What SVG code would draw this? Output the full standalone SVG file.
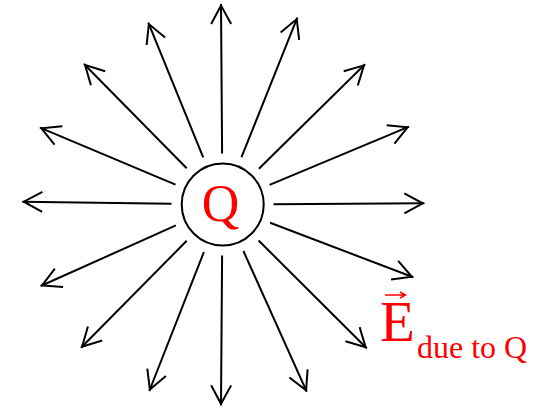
<svg xmlns="http://www.w3.org/2000/svg" width="539" height="409" viewBox="0 0 539 409">
  <style>
    .field { stroke: #000; stroke-width: 2; fill: none; marker-end: url(#head); }
    .red { fill: #ff0000; font-family: "Liberation Serif", "Times New Roman", serif; }
  </style>
  <defs>
    <marker id="head" markerUnits="userSpaceOnUse" viewBox="-24 -13 26 26" markerWidth="26" markerHeight="26" refX="0" refY="0" orient="auto" overflow="visible">
      <path d="M-20,-10 L-1.5,0 L-20,10" fill="none" stroke="#000" stroke-width="2" stroke-linejoin="miter"/>
    </marker>
  </defs>
  <rect width="539" height="409" fill="#fff"/>
  <g id="connectors">
    <line class="field" x1="222.1" y1="153.5" x2="221" y2="4"/>
    <line class="field" x1="241.5" y1="157.2" x2="297.3" y2="17.7"/>
    <line class="field" x1="258.9" y1="168.7" x2="365" y2="64.3"/>
    <line class="field" x1="269.6" y1="184.9" x2="409" y2="126.7"/>
    <line class="field" x1="273.5" y1="204.2" x2="424.3" y2="203.3"/>
    <line class="field" x1="270.1" y1="222.7" x2="413.3" y2="277.3"/>
    <line class="field" x1="258.6" y1="240.5" x2="366.7" y2="348.3"/>
    <line class="field" x1="243.4" y1="251.0" x2="306.7" y2="391.7"/>
    <line class="field" x1="222.1" y1="255.5" x2="221" y2="405.3"/>
    <line class="field" x1="203.9" y1="252.0" x2="149.3" y2="391"/>
    <line class="field" x1="186.7" y1="240.8" x2="81" y2="347.7"/>
    <line class="field" x1="175.9" y1="225.4" x2="40.7" y2="286"/>
    <line class="field" x1="171.5" y1="203.8" x2="22.3" y2="201.7"/>
    <line class="field" x1="175.5" y1="184.7" x2="40" y2="127.7"/>
    <line class="field" x1="186.7" y1="168.2" x2="84" y2="64"/>
    <line class="field" x1="203.2" y1="157.3" x2="148.3" y2="22.7"/>
  </g>
  <g id="charge">
    <circle cx="222.7" cy="204.5" r="41" fill="none" stroke="#000" stroke-width="2"/>
    <text class="red" x="220.6" y="221" font-size="52" text-anchor="middle">Q</text>
  </g>
  <g id="field-label">
    <path d="M385,295 L404,295 M400,292 L405.5,295 L400,298" fill="none" stroke="#ff0000" stroke-width="1.5"/>
    <text class="red" x="380" y="341" font-size="57">E</text>
    <text class="red" x="417" y="358" font-size="32">due to Q</text>
  </g>
</svg>
